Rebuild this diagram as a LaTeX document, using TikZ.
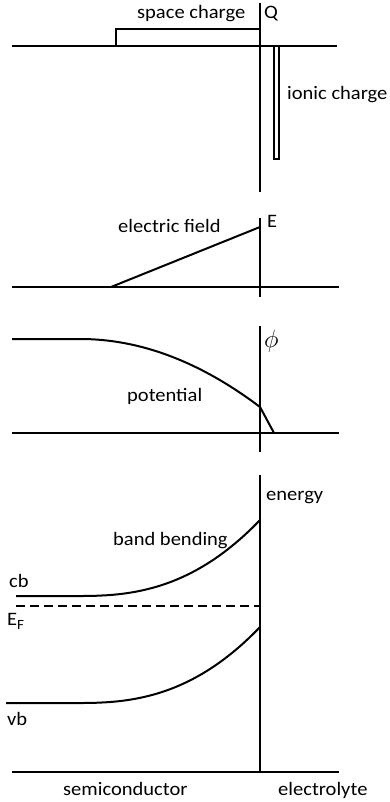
\documentclass[tikz,border=0pt]{standalone}
\usepackage{fontspec}
\setmainfont{Carlito}[FakeStretch=1.08]
\begin{document}
\begin{tikzpicture}[x=1pt,y=-1pt,
  ln/.style={line width=2pt},
  lbl/.style={anchor=base west,inner sep=0pt,font=\fontsize{19}{22}\selectfont}]
\useasboundingbox (0,0) rectangle (389,802);
% panel 1
\draw[ln] (12,46) -- (337,46);
\draw[ln] (260,3) -- (260,192);
\draw[ln] (116,46) -- (116,29) -- (260,29);
\draw[line width=1.5pt] (274,46) rectangle (279,159);
\node[lbl] (sc) at (137,19) {space charge};
\node[lbl] (q) at (264,19) {Q};
\node[lbl] (ic) at (287,100) {ionic charge};
% panel 2
\draw[ln] (260,218) -- (260,297);
\draw[ln] (12,287) -- (339,287);
\draw[ln] (111,287) -- (260,227);
\node[lbl] (ef) at (118,233) {electric field};
\node[lbl] (e) at (267,228) {E};
% panel 3
\draw[ln] (260,326) -- (260,452);
\draw[ln] (12,433) -- (339,433);
\draw[ln] (12,339) -- plot[domain=80:260,samples=40,smooth] (\x,{339+68*((\x-80)/180)^2}) -- (274,433);
\node[lbl,font=\fontsize{25}{28}\selectfont] (phi) at (264,347) {$\phi$};
\node[lbl] (pot) at (127,401) {potential};
% panel 4
\draw[ln] (260,475) -- (260,772);
\draw[ln] (12,772) -- (339,772);
\draw[ln] (16,596) -- plot[domain=78:260,samples=40,smooth] (\x,{596-76*((\x-78)/182)^2.5});
\draw[ln] (6,703) -- plot[domain=78:260,samples=40,smooth] (\x,{703-76*((\x-78)/182)^2.5});
\draw[ln,dash pattern=on 9pt off 5pt] (16,606) -- (260,606);
\node[lbl] (en) at (266,500) {energy};
\node[lbl] (bb) at (113,545) {band bending};
\node[lbl] (cb) at (9,587) {cb};
\node[lbl] (ef2) at (7,625) {E{\fontsize{14}{16}\selectfont\raisebox{-4pt}{F}}};
\node[lbl] (vb) at (7,725) {vb};
\node[lbl] (semi) at (63,795) {semiconductor};
\node[lbl] (el) at (278,795) {electrolyte};
\end{tikzpicture}
\end{document}
